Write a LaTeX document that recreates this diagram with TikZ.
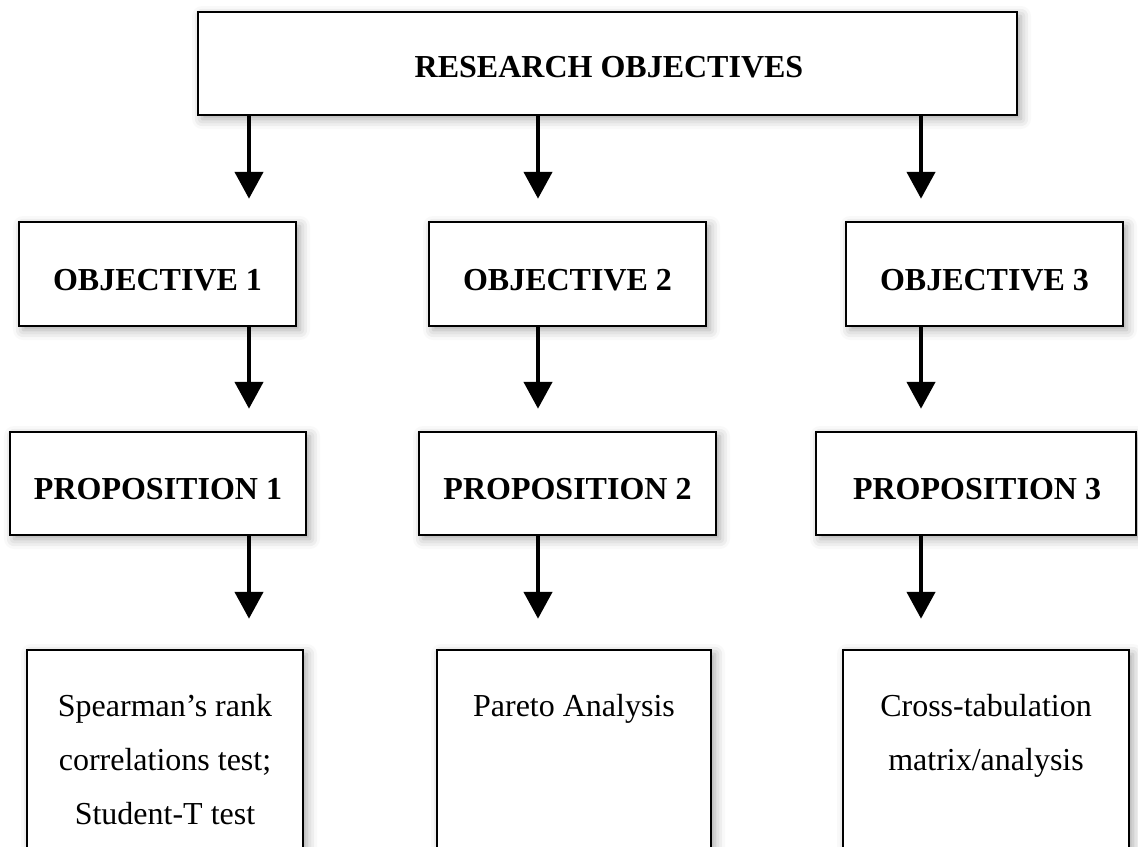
\documentclass[tikz,border=0pt]{standalone}
\usepackage{fontspec}
\setmainfont{Liberation Serif}
\usetikzlibrary{arrows.meta,shadows.blur}
\begin{document}
\begin{tikzpicture}[x=0.5pt,y=-0.5pt,
  box/.style={draw=black,line width=1.25pt,fill=white,inner sep=0pt,
    blur shadow={shadow xshift=2pt,shadow yshift=-2pt,shadow blur radius=5pt,shadow opacity=35}},
  head/.style={font=\fontsize{16}{19}\selectfont\bfseries,inner sep=0pt,anchor=base},
  body/.style={font=\fontsize{16}{27}\selectfont,align=center,anchor=north,inner sep=0pt},
  arr/.style={line width=2.3pt,-{Triangle[width=14pt,length=13.5pt]}}]
\useasboundingbox (0,0) rectangle (1138,846);
\clip (0,0) rectangle (1138,846);

% level 0
\node[box,minimum width=409.5pt,minimum height=51.5pt] (top) at (607.5,63.5) {};
\node[head] (toptxt) at (609,77) {RESEARCH OBJECTIVES};

% level 1
\node[box,minimum width=138.5pt,minimum height=52pt] (o1) at (157.5,274) {};
\node[box,minimum width=138.5pt,minimum height=52pt] (o2) at (567.5,274) {};
\node[box,minimum width=138.5pt,minimum height=52pt] (o3) at (984.5,274) {};
\node[head] (o1t) at (157.5,290) {OBJECTIVE 1};
\node[head] (o2t) at (567.5,290) {OBJECTIVE 2};
\node[head] (o3t) at (984.5,290) {OBJECTIVE 3};

% level 2
\node[box,minimum width=148pt,minimum height=51.5pt] (p1) at (158,483.5) {};
\node[box,minimum width=148.5pt,minimum height=51.5pt] (p2) at (567.5,483.5) {};
\node[box,minimum width=160pt,minimum height=51.5pt] (p3) at (976,483.5) {};
\node[head] (p1t) at (158,499) {PROPOSITION 1};
\node[head] (p2t) at (567.5,499) {PROPOSITION 2};
\node[head] (p3t) at (977,499) {PROPOSITION 3};

% level 3
\node[box,minimum width=138pt,minimum height=125pt] (b1) at (165,775) {};
\node[box,minimum width=137pt,minimum height=125pt] (b2) at (574,775) {};
\node[box,minimum width=143pt,minimum height=125pt] (b3) at (986,775) {};
\node[body] (b1t) at (165,694) {Spearman’s rank\\correlations test;\\Student-T test};
\node[body] (b2t) at (574,694) {Pareto Analysis};
\node[body] (b3t) at (986,694) {Cross-tabulation\\matrix/analysis};

% connectors
\coordinate (c1) at (249,0);
\coordinate (c2) at (538,0);
\coordinate (c3) at (921,0);
\draw[arr,shorten >=11pt] (top.south -| c1) -- (o1.north -| c1);
\draw[arr,shorten >=11pt] (top.south -| c2) -- (o2.north -| c2);
\draw[arr,shorten >=11pt] (top.south -| c3) -- (o3.north -| c3);
\draw[arr,shorten >=11pt] (o1.south -| c1) -- (p1.north -| c1);
\draw[arr,shorten >=11pt] (o2.south -| c2) -- (p2.north -| c2);
\draw[arr,shorten >=11pt] (o3.south -| c3) -- (p3.north -| c3);
\draw[arr,shorten >=15pt] (p1.south -| c1) -- (b1.north -| c1);
\draw[arr,shorten >=15pt] (p2.south -| c2) -- (b2.north -| c2);
\draw[arr,shorten >=15pt] (p3.south -| c3) -- (b3.north -| c3);
\end{tikzpicture}
\end{document}
